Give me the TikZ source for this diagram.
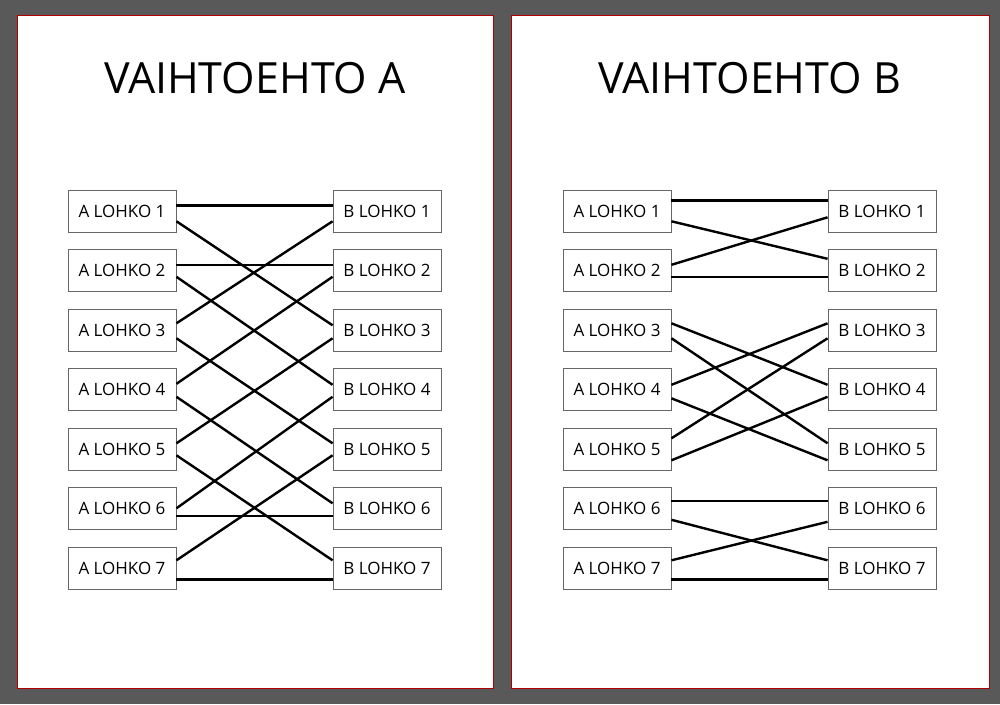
\documentclass[tikz,border=0pt]{standalone}
\usepackage{fontspec}
\setmainfont{Open Sans}
\usetikzlibrary{positioning}

\begin{document}
\begin{tikzpicture}[x=1pt,y=-1pt,
lohkonode/.style={rectangle, draw=black!60, fill=white, line width=0.9pt, minimum width=108pt, minimum height=42pt, inner sep=0pt, font=\fontsize{17}{20}\selectfont},
titlenode/.style={font=\fontsize{43}{52}\selectfont},
wire/.style={line width=2.4pt},
panel/.style={fill=white, draw=red!70!black, line width=1pt},
]
\fill[black!65] (0,0) rectangle (1000,704);
\draw[panel] (17,15) rectangle (493,688);
\draw[panel] (511,15) rectangle (989,688);

%Titles
\node[titlenode] (ta) at (255,78) {VAIHTOEHTO A};
\node[titlenode] (tb) at (750,78) {VAIHTOEHTO B};

%Nodes
\foreach \i in {1,...,7} {
  \node[lohkonode] (la\i) at (122,{211.3+59.5*(\i-1)}) {A LOHKO \i};
  \node[lohkonode] (lb\i) at (387,{211.3+59.5*(\i-1)}) {B LOHKO \i};
  \node[lohkonode] (ra\i) at (617,{211.3+59.5*(\i-1)}) {A LOHKO \i};
  \node[lohkonode] (rb\i) at (882,{211.3+59.5*(\i-1)}) {B LOHKO \i};
}

%Lines A
\draw[wire] ([yshift=6]la1.east) -- ([yshift=6]lb1.west);
\draw[wire] ([yshift=-10]la1.east) -- ([yshift=5]lb3.west);
\draw[wire] ([yshift=6]la2.east) -- ([yshift=6]lb2.west);
\draw[wire] ([yshift=-6]la2.east) -- ([yshift=5]lb4.west);
\draw[wire] ([yshift=7]la3.east) -- ([yshift=-10]lb1.west);
\draw[wire] ([yshift=-8]la3.east) -- ([yshift=6]lb5.west);
\draw[wire] ([yshift=6]la4.east) -- ([yshift=-6]lb2.west);
\draw[wire] ([yshift=-7]la4.east) -- ([yshift=5.5]lb6.west);
\draw[wire] ([yshift=6]la5.east) -- ([yshift=-8]lb3.west);
\draw[wire] ([yshift=-6]la5.east) -- ([yshift=8]lb7.west);
\draw[wire] ([yshift=0.5]la6.east) -- ([yshift=-7]lb4.west);
\draw[wire] ([yshift=-7]la6.east) -- ([yshift=-7]lb6.west);
\draw[wire] ([yshift=8]la7.east) -- ([yshift=-6]lb5.west);
\draw[wire] ([yshift=-11]la7.east) -- ([yshift=-11]lb7.west);

%Lines B
\draw[wire] ([yshift=11]ra1.east) -- ([yshift=11]rb1.west);
\draw[wire] ([yshift=-10]ra1.east) -- ([yshift=12]rb2.west);
\draw[wire] ([yshift=6]ra2.east) -- ([yshift=-6]rb1.west);
\draw[wire] ([yshift=-6]ra2.east) -- ([yshift=-6]rb2.west);
\draw[wire] ([yshift=7]ra3.east) -- ([yshift=5]rb4.west);
\draw[wire] ([yshift=-8]ra3.east) -- ([yshift=6]rb5.west);
\draw[wire] ([yshift=5]ra4.east) -- ([yshift=7]rb3.west);
\draw[wire] ([yshift=-8.5]ra4.east) -- ([yshift=-11]rb5.west);
\draw[wire] ([yshift=11]ra5.east) -- ([yshift=-8]rb3.west);
\draw[wire] ([yshift=-11]ra5.east) -- ([yshift=-7]rb4.west);
\draw[wire] ([yshift=8]ra6.east) -- ([yshift=8]rb6.west);
\draw[wire] ([yshift=-11]ra6.east) -- ([yshift=8]rb7.west);
\draw[wire] ([yshift=8]ra7.east) -- ([yshift=-13]rb6.west);
\draw[wire] ([yshift=-11]ra7.east) -- ([yshift=-11]rb7.west);
\end{tikzpicture}
\end{document}
